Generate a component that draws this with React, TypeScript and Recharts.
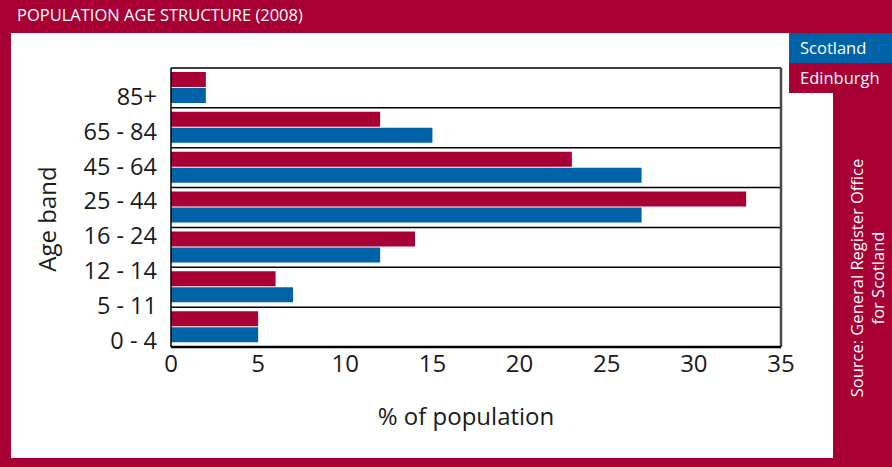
import { BarChart, Bar, XAxis, YAxis, ReferenceLine, Legend } from "recharts"

// age bands that carry bars (top to bottom)
const bandKeys = ["85+", "65 - 84", "45 - 64", "25 - 44", "16 - 24", "5 - 14", "0 - 4"]
const edinburgh = [2, 12, 23, 33, 14, 6, 5]
const scotland = [2, 15, 27, 27, 12, 7, 5]

// labels printed on the left axis (top to bottom)
const ageLabels = ["85+", "65 - 84", "45 - 64", "25 - 44", "16 - 24", "12 - 14", "5 - 11", "0 - 4"]
const xTicks = [0, 5, 10, 15, 20, 25, 30, 35]

const CRIMSON = "#a80035"
const BLUE = "#0063a8"
const INK = "#1a1a1a"

const data = bandKeys.map((band, i) => ({ band, edinburgh: edinburgh[i], scotland: scotland[i] }))
const labelTicks = ageLabels.map((_, i) => i + 0.5)
const bandEdges = bandKeys.map((_, i) => i).concat(bandKeys.length)

// numeric y axes in a vertical chart need a dataKey, otherwise recharts uses row indexes
const noValue = () => 0

function LegendBoxes(props: any) {
  const items = [...(props.payload || [])].reverse()
  return (
    <div>
      {items.map((it: any) => (
        <div
          key={it.value}
          style={{
            background: it.color,
            color: "#fff",
            height: 30,
            lineHeight: "30px",
            paddingLeft: 11,
            fontSize: 16.5,
          }}
        >
          {it.value}
        </div>
      ))}
    </div>
  )
}

function AgeTick({ x, y, payload }: any) {
  return (
    <text x={x - 6} y={y + 11} dy="0.355em" textAnchor="end" fontSize={23.5} fill={INK}>
      {ageLabels[Math.floor(payload.value)]}
    </text>
  )
}

export default function App() {
  return (
    <div
      style={{
        position: "relative",
        width: 892,
        height: 467,
        background: CRIMSON,
        fontFamily: "'Open Sans', sans-serif",
        overflow: "hidden",
      }}
    >
      <style>{"body{margin:0}"}</style>
      <div style={{ position: "absolute", left: 17, top: 3, color: "#fff", fontSize: 16.5, lineHeight: "24px" }}>
        POPULATION AGE STRUCTURE (2008)
      </div>
      <div style={{ position: "absolute", left: 11, top: 33, width: 822, height: 425, background: "#fff" }} />
      <div
        style={{
          position: "absolute",
          left: 46,
          top: 219,
          transform: "translate(-50%, -50%) rotate(-90deg)",
          whiteSpace: "nowrap",
          fontSize: 24,
          color: INK,
        }}
      >
        Age band
      </div>
      <div
        style={{
          position: "absolute",
          left: 867,
          top: 278,
          transform: "translate(-50%, -50%) rotate(-90deg)",
          whiteSpace: "nowrap",
          textAlign: "center",
          fontSize: 16.5,
          lineHeight: "21px",
          color: "#fff",
        }}
      >
        Source: General Register Office
        <br />
        for Scotland
      </div>
      <div style={{ position: "absolute", left: 0, top: 0 }}>
        <BarChart
          width={892}
          height={467}
          data={data}
          layout="vertical"
          margin={{ top: 68, right: 111, bottom: 40, left: 0 }}
          barCategoryGap={4}
          barGap={1}
        >
          <XAxis
            type="number"
            domain={[0, 35]}
            ticks={xTicks}
            height={80}
            axisLine={{ stroke: "#000", strokeWidth: 2.5 }}
            tickLine={false}
            tick={{ fontSize: 24, fill: INK }}
            label={{ value: "% of population", position: "insideBottom", offset: 2, dx: -10, fontSize: 24, fill: INK }}
          />
          <YAxis yAxisId="bars" type="category" dataKey="band" hide width={0} />
          <YAxis
            yAxisId="grid"
            type="number"
            dataKey={noValue}
            domain={[0, bandKeys.length]}
            allowDataOverflow
            hide
            width={0}
          />
          <YAxis
            yAxisId="labels"
            type="number"
            dataKey={noValue}
            domain={[0, ageLabels.length]}
            allowDataOverflow
            ticks={labelTicks}
            interval={0}
            width={171}
            axisLine={{ stroke: "#000", strokeWidth: 1.5 }}
            tickLine={false}
            tick={<AgeTick />}
          />
          {bandEdges.map((v) => (
            <ReferenceLine key={v} yAxisId="grid" y={v} stroke="#000" strokeWidth={1.5} />
          ))}
          <ReferenceLine yAxisId="grid" x={35} stroke="#4a4a4a" strokeWidth={2.5} />
          <Legend
            layout="vertical"
            align="center"
            verticalAlign="middle"
            content={<LegendBoxes />}
            wrapperStyle={{ top: 33, left: 789, width: 103 }}
          />
          <Bar yAxisId="bars" dataKey="edinburgh" name="Edinburgh" fill={CRIMSON} isAnimationActive={false} />
          <Bar yAxisId="bars" dataKey="scotland" name="Scotland" fill={BLUE} isAnimationActive={false} />
        </BarChart>
      </div>
    </div>
  )
}
